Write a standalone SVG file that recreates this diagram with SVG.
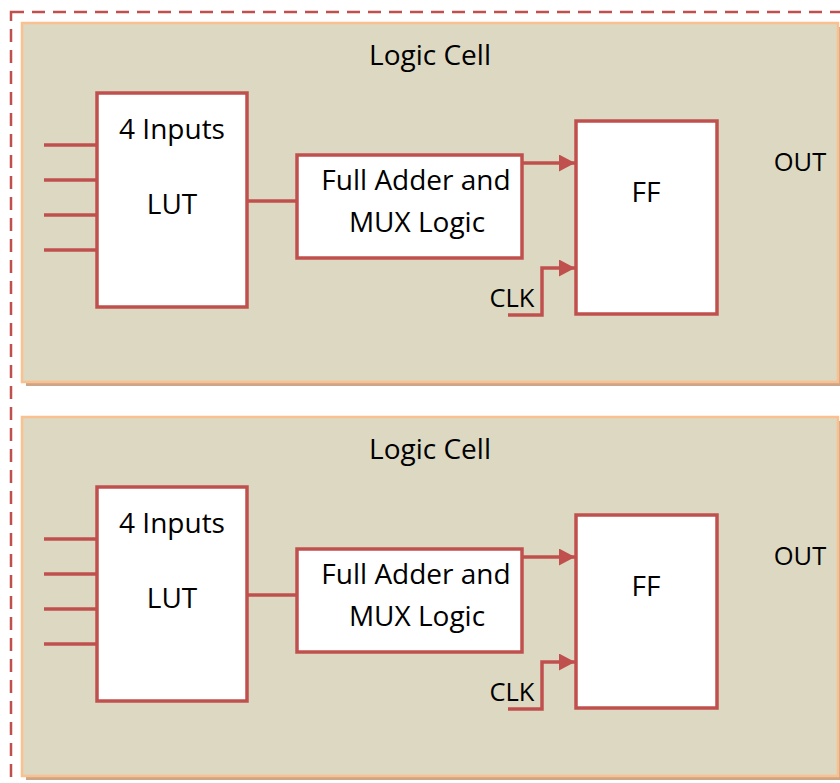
<svg xmlns="http://www.w3.org/2000/svg" width="840" height="783" viewBox="0 0 840 783">
  <defs>
    <style>
      .frame { fill: none; stroke: #c0504d; stroke-width: 2.5; stroke-dasharray: 13 8; }
      .cell { fill: #ddd8c2; stroke: #fac08f; stroke-width: 2.5; }
      .shadow { fill: #cda688; }
      .box { fill: #ffffff; stroke: #c0504d; stroke-width: 3.5; }
      .wire { fill: none; stroke: #c0504d; stroke-width: 3.5; }
      .lbl { font-family: "Open Sans", "Liberation Sans", sans-serif; font-size: 28px; fill: #000000; text-anchor: middle; }
      .sm { font-size: 25.5px; }
    </style>
    <marker id="arrow" viewBox="0 0 16 17" refX="16" refY="8.5" markerWidth="16" markerHeight="17" markerUnits="userSpaceOnUse" orient="auto">
      <path d="M0,0 L16,8.5 L0,17 Z" fill="#c0504d"/>
    </marker>
  </defs>

  <!-- dashed outer boundary -->
  <rect class="frame" x="11" y="12" width="900" height="900"/>

  <!-- logic cell 1 -->
  <g id="cell1">
    <rect class="shadow" x="26" y="27" width="816" height="359"/>
    <rect class="cell" x="22" y="23" width="816" height="359"/>
    <text class="lbl" x="430" y="65">Logic Cell</text>
    <text class="lbl sm" x="800" y="171">OUT</text>
    <text class="lbl sm" x="512" y="307">CLK</text>
  </g>
  <g id="lut1">
    <rect class="box" x="97" y="93" width="150" height="214"/>
    <text class="lbl" x="172" y="139">4 Inputs</text>
    <text class="lbl" x="172" y="214">LUT</text>
  </g>
  <g id="fa1">
    <rect class="box" x="297" y="155" width="225" height="103"/>
    <text class="lbl" x="416" y="190">Full Adder and</text>
    <text class="lbl" x="417" y="232">MUX Logic</text>
  </g>
  <g id="ff1">
    <rect class="box" x="576" y="121" width="141" height="193"/>
    <text class="lbl" x="646" y="202">FF</text>
  </g>

  <!-- logic cell 2 -->
  <g id="cell2">
    <rect class="shadow" x="26" y="421" width="816" height="359"/>
    <rect class="cell" x="22" y="417" width="816" height="359"/>
    <text class="lbl" x="430" y="459">Logic Cell</text>
    <text class="lbl sm" x="800" y="565">OUT</text>
    <text class="lbl sm" x="512" y="701">CLK</text>
  </g>
  <g id="lut2">
    <rect class="box" x="97" y="487" width="150" height="214"/>
    <text class="lbl" x="172" y="533">4 Inputs</text>
    <text class="lbl" x="172" y="608">LUT</text>
  </g>
  <g id="fa2">
    <rect class="box" x="297" y="549" width="225" height="103"/>
    <text class="lbl" x="416" y="584">Full Adder and</text>
    <text class="lbl" x="417" y="626">MUX Logic</text>
  </g>
  <g id="ff2">
    <rect class="box" x="576" y="515" width="141" height="193"/>
    <text class="lbl" x="646" y="596">FF</text>
  </g>

  <!-- connectors -->
  <g id="connectors">
    <!-- cell 1 -->
    <path class="wire" d="M44,145 H97 M44,180 H97 M44,215 H97 M44,250 H97"/>
    <path class="wire" d="M247,201 H297"/>
    <path class="wire" d="M522,163 H575" marker-end="url(#arrow)"/>
    <path class="wire" d="M508,315 H542 V268 H575" marker-end="url(#arrow)"/>
    <!-- cell 2 -->
    <path class="wire" d="M44,539 H97 M44,574 H97 M44,609 H97 M44,644 H97"/>
    <path class="wire" d="M247,595 H297"/>
    <path class="wire" d="M522,557 H575" marker-end="url(#arrow)"/>
    <path class="wire" d="M508,709 H542 V662 H575" marker-end="url(#arrow)"/>
  </g>
</svg>
